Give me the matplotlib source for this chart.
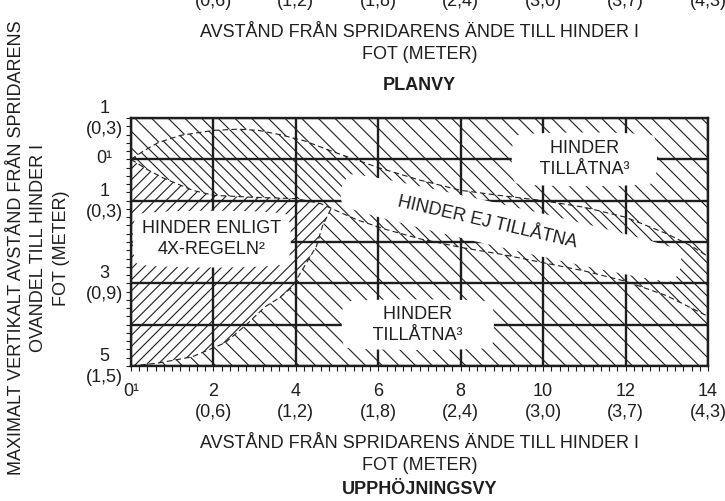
import matplotlib
matplotlib.use("Agg")
import matplotlib.pyplot as plt
from matplotlib.ticker import MultipleLocator
import matplotlib.transforms as mtransforms

plt.rcParams['font.family'] = ['Liberation Sans', 'DejaVu Sans']
plt.rcParams['hatch.linewidth'] = 0.8
INK = '#1e1e1e'
plt.rcParams['hatch.color'] = INK
plt.rcParams['text.color'] = INK

# ---------------- data ----------------
x_limits = [0, 14]
y_limits = [5, -1]          # inverted: 1 ft above (top) to 5 ft below

x_tick_values = [0, 2, 4, 6, 8, 10, 12, 14]
x_tick_labels = ["0¹", "2\n(0,6)", "4\n(1,2)", "6\n(1,8)", "8\n(2,4)",
                 "10\n(3,0)", "12\n(3,7)", "14\n(4,3)"]
top_metric_labels = ["(0,6)", "(1,2)", "(1,8)", "(2,4)", "(3,0)", "(3,7)", "(4,3)"]
top_metric_x = [2, 4, 6, 8, 10, 12, 14]

y_tick_values = [-1, 0, 1, 2, 3, 4, 5]
y_tick_labels = ["1\n(0,3)", "0¹", "1\n(0,3)", "", "3\n(0,9)", "", "5\n(1,5)"]

# upper dashed boundary of the "not allowed" band
upper_x = [0, 0.3, 0.65, 1.2, 2.0, 2.6, 3.1, 3.6, 4.2, 5.0, 6.0, 7.0, 8.0, 9.0,
           10.0, 11.0, 12.0, 13.0, 13.6, 14.0]
upper_y = [0, -0.2, -0.4, -0.58, -0.7, -0.73, -0.7, -0.6, -0.45, -0.15, 0.2, 0.5,
           0.75, 0.88, 1.0, 1.16, 1.4, 1.8, 2.1, 2.35]

# lower dashed boundary of the "not allowed" band
lower_x = [0, 0.4, 0.8, 1.5, 2.0, 3.0, 4.0, 4.6, 5.0, 5.5, 6.2, 7.0, 8.0, 9.0,
           10.0, 11.0, 12.0, 13.0, 13.8, 14.0]
lower_y = [0, 0.25, 0.46, 0.75, 0.87, 0.92, 0.95, 1.07, 1.25, 1.47, 1.7, 1.92,
           2.13, 2.3, 2.5, 2.7, 2.95, 3.3, 3.7, 3.8]

# boundary of the 4X-rule region (from the band down to the floor)
fourx_x = [4.85, 4.65, 4.5, 4.2, 3.9, 3.6, 3.25, 2.8, 2.28, 1.48, 0.65, 0]
fourx_y = [1.2, 1.6, 2.1, 2.6, 3.1, 3.35, 3.57, 4.0, 4.44, 4.78, 4.93, 5]

# ---------------- figure ----------------
fig = plt.figure(figsize=(7.25, 5.01), dpi=100)
ax = fig.add_axes([131 / 725, 1 - 366 / 501, 577 / 725, 248 / 501])
ax.set_xlim(*x_limits)
ax.set_ylim(*y_limits)
x0, x1 = x_limits
yb, yt = y_limits

# upper "allowed" region
ax.fill(upper_x + [x1, x0], upper_y + [yt, yt], facecolor='white',
        edgecolor=INK, hatch='\\\\', lw=0, zorder=1)
# "not allowed" band
ax.fill(upper_x + lower_x[::-1], upper_y + lower_y[::-1], facecolor='white',
        edgecolor=INK, hatch='\\\\\\', lw=0, zorder=1)
# lower "allowed" region
ax.fill(lower_x + [x1, x0], lower_y + [yb, yb], facecolor='white',
        edgecolor=INK, hatch='\\\\', lw=0, zorder=1)
# 4X-rule region
fx = [x for x in lower_x if x < fourx_x[0]] + fourx_x
fy = [y for x, y in zip(lower_x, lower_y) if x < fourx_x[0]] + fourx_y
ax.fill(fx, fy, facecolor='white', edgecolor=INK, hatch='///', lw=0, zorder=1.1)

dash = (0, (5, 3))
ax.plot(upper_x, upper_y, color=INK, lw=0.8, ls=dash, zorder=2)
ax.plot(lower_x, lower_y, color=INK, lw=0.8, ls=dash, zorder=2)
ax.plot(fourx_x, fourx_y, color=INK, lw=0.8, ls=dash, zorder=2)

# grid & spines
ax.set_axisbelow(False)
ax.grid(True, which='major', color=INK, lw=1.7)
for s in ax.spines.values():
    s.set_color(INK)
    s.set_linewidth(1.7)

ax.set_xticks(x_tick_values)
ax.set_xticklabels(x_tick_labels, linespacing=1.35, multialignment='center')
ax.set_yticks(y_tick_values)
ax.set_yticklabels(y_tick_labels, linespacing=1.3, multialignment='center',
                   ha='center')
ax.xaxis.set_minor_locator(MultipleLocator(0.2))
ax.yaxis.set_minor_locator(MultipleLocator(0.2))
ax.tick_params(which='both', direction='out', length=3.6, width=0.8, color=INK)
ax.tick_params(axis='x', which='major', labelsize=13, pad=8.5, labelcolor=INK)
ax.tick_params(axis='y', which='major', labelsize=13, pad=15.5, labelcolor=INK)
shift_up = mtransforms.ScaledTranslation(0, 3 / 100, fig.dpi_scale_trans)
for lab in ax.get_yticklabels():
    lab.set_transform(lab.get_transform() + shift_up)

# region labels with white cloud backgrounds
ax.text(1.96, 1.93, "HINDER ENLIGT\n4X-REGELN²", ha='center', va='center',
        fontsize=13, multialignment='center', linespacing=1.3,
        bbox=dict(boxstyle='round4,pad=0.6', fc='white', ec='none'), zorder=4)
ax.text(11.0, 0.0, "    HINDER    \n    TILLÅTNA³    ", ha='center', va='center',
        fontsize=13, multialignment='center', linespacing=1.3,
        bbox=dict(boxstyle='round4,pad=0.5', fc='white', ec='none'), zorder=4)
ax.text(6.96, 4.0, "     HINDER     \n     TILLÅTNA³     ", ha='center', va='center',
        fontsize=13, multialignment='center', linespacing=1.3,
        bbox=dict(boxstyle='round4,pad=0.4', fc='white', ec='none'), zorder=4)
ax.text(9.22, 1.66, " " * 9 + "HINDER EJ TILLÅTNA" + " " * 19, ha='center',
        va='center', fontsize=13, rotation=-13, rotation_mode='anchor',
        bbox=dict(boxstyle='round4,pad=0.8', fc='white', ec='none'), zorder=4)

# axis titles
blend = mtransforms.blended_transform_factory(ax.transData, fig.transFigure)
for xv, lab in zip(top_metric_x, top_metric_labels):
    fig.text(xv, 1 - 2 / 501, lab, transform=blend, ha='center', va='center',
             fontsize=13)
xlab = "AVSTÅND FRÅN SPRIDARENS ÄNDE TILL HINDER I\nFOT (METER)"
blend2 = mtransforms.blended_transform_factory(ax.transAxes, fig.transFigure)
fig.text(0.5, 1 - 43.5 / 501, xlab, transform=blend2, ha='center', va='center',
         fontsize=13, multialignment='center', linespacing=1.35)
fig.text(0.5, 1 - 85 / 501, "PLANVY", transform=blend2, ha='center', va='center',
         fontsize=13, fontweight='bold')
fig.text(0.5, 1 - 454.5 / 501, xlab, transform=blend2, ha='center', va='center',
         fontsize=13, multialignment='center', linespacing=1.35)
fig.text(0.5, 1 - 490 / 501, "UPPHÖJNINGSVY", transform=blend2, ha='center',
         va='center', fontsize=13, fontweight='bold')
fig.text(39 / 725, 1 - 248 / 501,
         "MAXIMALT VERTIKALT AVSTÅND FRÅN SPRIDARENS\nOVANDEL TILL HINDER I\nFOT (METER)",
         rotation=90, ha='center', va='center', fontsize=13,
         multialignment='center', linespacing=1.4)

fig.savefig("out.png", dpi=100)
